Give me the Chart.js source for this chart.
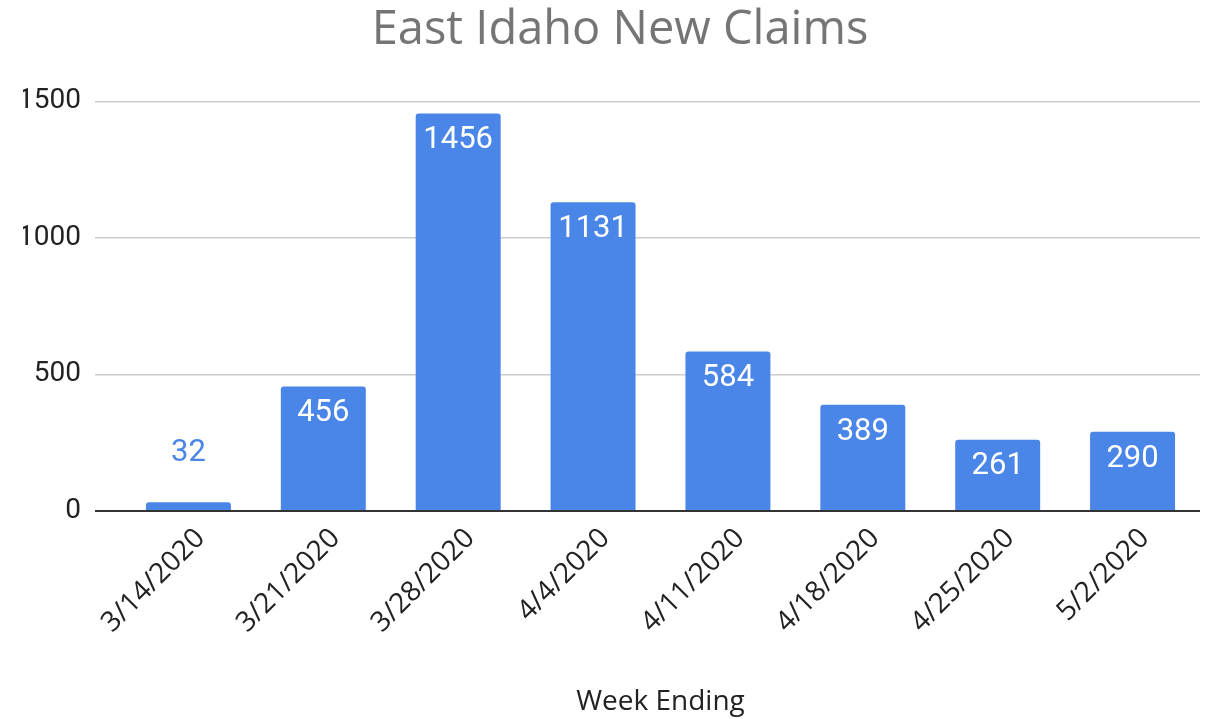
<!DOCTYPE html>
<html>
<head>
<meta charset="utf-8">
<script src="https://cdn.jsdelivr.net/npm/chart.js@4"></script>
<style>
  html, body { margin: 0; padding: 0; background: #fff; }
  #wrap { width: 1217px; height: 719px; }
</style>
</head>
<body>
<div id="wrap"><canvas id="chart" width="1217" height="719"></canvas></div>
<script>
let weeks = ["3/14/2020", "3/21/2020", "3/28/2020", "4/4/2020", "4/11/2020", "4/18/2020", "4/25/2020", "5/2/2020"];
let claims = [32, 456, 1456, 1131, 584, 389, 261, 290];
let yTicks = [0, 500, 1000, 1500];

let barColor = "#4a86e8";

// value labels: inside the bar top in white, above the bar in blue when it's too short
let valueLabels = {
    id: "valueLabels",
    afterDatasetsDraw(chart) {
        let ctx = chart.ctx;
        let meta = chart.getDatasetMeta(0);
        ctx.save();
        ctx.font = "31px Roboto, Arial, sans-serif";
        ctx.textAlign = "center";
        ctx.textBaseline = "middle";
        meta.data.forEach((bar, i) => {
            let h = bar.base - bar.y;
            if (h > 60) {
                ctx.fillStyle = "#ffffff";
                ctx.fillText(claims[i], bar.x, bar.y + 27);
            } else {
                ctx.fillStyle = barColor;
                ctx.fillText(claims[i], bar.x, bar.y - 49);
            }
        });
        ctx.restore();
    }
};

new Chart(document.getElementById("chart"), {
    type: "bar",
    data: {
        labels: weeks,
        datasets: [{
            data: claims,
            backgroundColor: barColor,
            borderRadius: { topLeft: 3, topRight: 3 },
            borderSkipped: "bottom",
            barPercentage: 0.63,
            categoryPercentage: 1
        }]
    },
    options: {
        responsive: false,
        animation: false,
        layout: { padding: { left: 23, right: 0, top: 0, bottom: 0 } },
        plugins: {
            legend: { display: false },
            tooltip: { enabled: false },
            title: {
                display: true,
                text: "East Idaho New Claims",
                color: "#757575",
                font: { family: "'Open Sans', sans-serif", size: 47, weight: "normal" },
                padding: { top: 2, bottom: 43 }
            }
        },
        scales: {
            x: {
                grid: { display: false },
                border: { display: false },
                ticks: {
                    color: "#222",
                    font: { family: "'Open Sans', sans-serif", size: 28 },
                    minRotation: 45,
                    maxRotation: 45,
                    labelOffset: 12,
                    padding: 3
                },
                title: {
                    display: true,
                    text: "Week Ending",
                    color: "#222",
                    font: { family: "'Open Sans', sans-serif", size: 28 },
                    padding: { top: 0, bottom: 0 }
                },
                afterFit(scale) { scale.height = 208; }
            },
            y: {
                min: 0,
                max: 1500,
                border: { display: false },
                afterBuildTicks(scale) { scale.ticks = yTicks.map(v => ({ value: v })); },
                grid: {
                    drawTicks: true,
                    tickLength: 26,
                    color: ctx => ctx.tick && ctx.tick.value === 0 ? "#333333" : "#cccccc",
                    lineWidth: ctx => ctx.tick && ctx.tick.value === 0 ? 2 : 1.5
                },
                ticks: {
                    color: "#222",
                    font: { family: "Roboto, Arial, sans-serif", size: 28 },
                    padding: 14,
                    callback: v => String(v)
                },
                afterFit(scale) { scale.width = 98; }
            },
            // empty right-hand axis, only keeps the plot 17px off the right edge
            yRight: {
                position: "right",
                min: 0,
                max: 1500,
                grid: { display: false },
                border: { display: false },
                ticks: { display: false },
                afterFit(scale) { scale.width = 17; }
            }
        }
    },
    plugins: [valueLabels]
});
</script>
</body>
</html>
